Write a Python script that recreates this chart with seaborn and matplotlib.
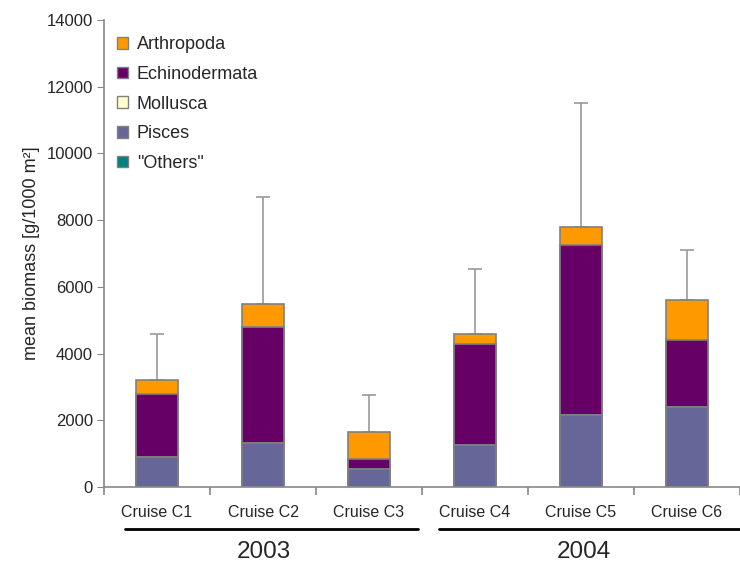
import matplotlib
matplotlib.use("Agg")
import matplotlib.pyplot as plt
from matplotlib.patches import Patch
import seaborn as sns
import pandas as pd

cruises = ["Cruise C1", "Cruise C2", "Cruise C3", "Cruise C4", "Cruise C5", "Cruise C6"]
others = [0, 0, 0, 0, 0, 0]
pisces = [900, 1330, 540, 1250, 2150, 2400]
mollusca = [0, 0, 0, 0, 0, 0]
echinodermata = [1880, 3470, 310, 3030, 5100, 2000]
arthropoda = [420, 680, 800, 320, 530, 1200]
sd_upper = [1400, 3220, 1100, 1950, 3720, 1500]
years = ["2003", "2004"]

sns.set_style("white")
plt.rcParams['font.family'] = ['Liberation Sans', 'DejaVu Sans']

df = pd.DataFrame({"cruise": cruises, "Others": others, "Pisces": pisces,
                   "Mollusca": mollusca, "Echinodermata": echinodermata,
                   "Arthropoda": arthropoda})
layers = ["Others", "Pisces", "Mollusca", "Echinodermata", "Arthropoda"]
colors = {"Arthropoda": "#FF9900", "Echinodermata": "#660066", "Mollusca": "#FFFFCC",
          "Pisces": "#666699", "Others": "#008080"}

# cumulative heights, drawn from top layer down so lower layers overlay
cum = df[layers].cumsum(axis=1)

fig = plt.figure(figsize=(7.4, 5.68), dpi=100)
ax = fig.add_axes([104 / 740, 81 / 568, 1 - 104 / 740, 467 / 568])

for layer in reversed(layers):
    sns.barplot(x=df["cruise"], y=cum[layer], color=colors[layer], saturation=1,
                width=0.4, edgecolor="#808080", linewidth=1.2, ax=ax, zorder=2)

totals = cum["Arthropoda"]
ax.errorbar(range(len(cruises)), totals, yerr=[[0] * len(cruises), sd_upper],
            fmt="none", ecolor="#999999", elinewidth=1.2, capsize=5, capthick=1.2, zorder=1)

ax.set_ylim(0, 14000)
ax.set_yticks(range(0, 14001, 2000))
ax.set_xlim(-0.5, (740 - 104) / 108 - 0.5)
ax.set_xlabel("")
ax.set_ylabel("mean biomass [g/1000 m²]", fontsize=13, labelpad=5)

for s in ["top", "right"]:
    ax.spines[s].set_visible(False)
for s in ["left", "bottom"]:
    ax.spines[s].set_color("#888888")
    ax.spines[s].set_linewidth(1.2)

ax.tick_params(axis="y", direction="out", length=5, color="#888888", labelsize=12, pad=3, left=True)
ax.set_xticks(range(len(cruises)))
ax.set_xticklabels(cruises)
ax.tick_params(axis="x", length=0, labelsize=11.5, pad=13)
ax.set_xticks([i - 0.5 for i in range(len(cruises) + 1)], minor=True)
ax.tick_params(axis="x", which="minor", direction="out", length=6, color="#888888", width=1.2, bottom=True)

handles = [Patch(facecolor=colors[k], edgecolor="#808080", label=('"Others"' if k == "Others" else k))
           for k in reversed(layers)]
ax.legend(handles=handles, loc="upper left", bbox_to_anchor=(-0.005, 1.0), frameon=False,
          fontsize=13, handlelength=0.6, handleheight=0.6, handletextpad=0.5, labelspacing=0.7)

# year group underlines and labels
line_y = 1 - 529 / 568
fig.add_artist(plt.Line2D([125 / 740, 418 / 740], [line_y, line_y], color="black", lw=2))
fig.add_artist(plt.Line2D([439 / 740, 1.0], [line_y, line_y], color="black", lw=2))
fig.text(264 / 740, 1 - 552 / 568, years[0], ha="center", va="center", fontsize=17.5)
fig.text(584 / 740, 1 - 552 / 568, years[1], ha="center", va="center", fontsize=17.5)

fig.savefig("out.png", dpi=100)
